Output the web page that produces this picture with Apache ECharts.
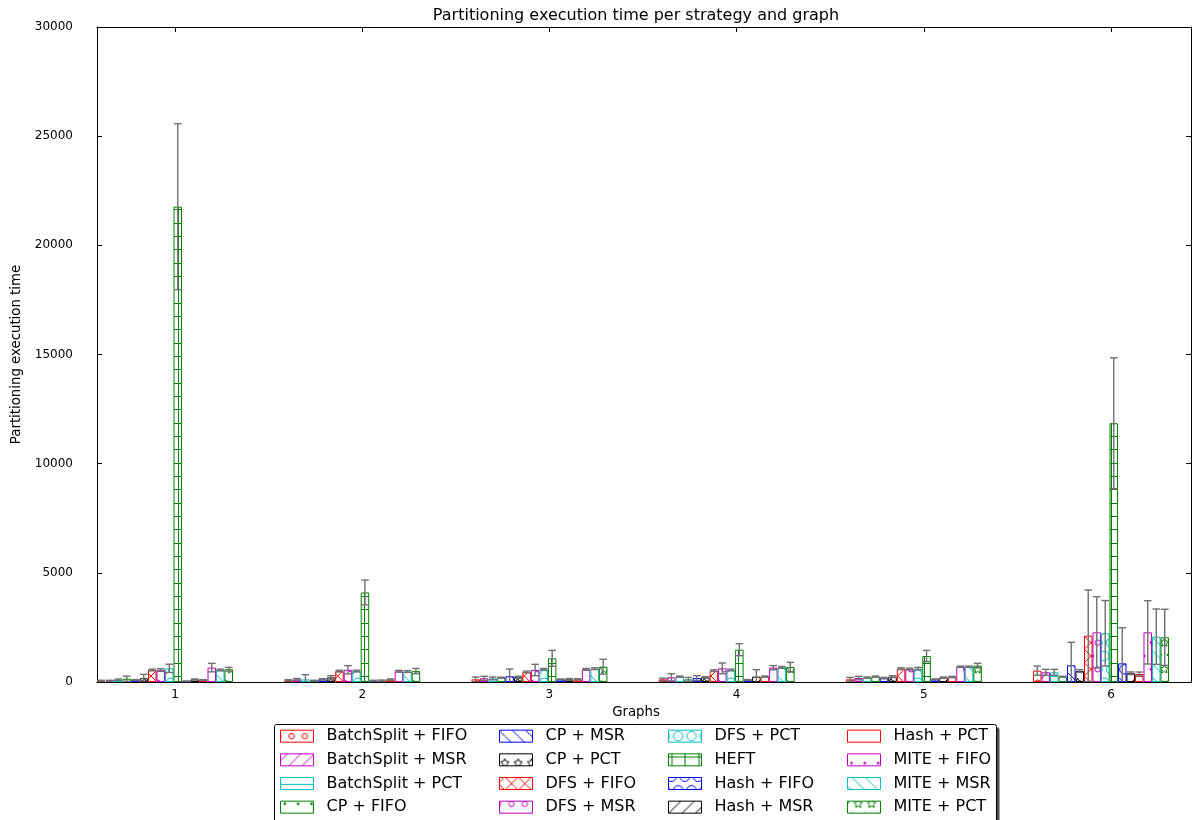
<!DOCTYPE html>
<html>
<head>
<meta charset="utf-8">
<script src="https://cdn.jsdelivr.net/npm/echarts@6/dist/echarts.min.js"></script>
<style>html,body{margin:0;padding:0;background:#fff}#chart{width:1192px;height:820px}</style>
</head>
<body>
<div id="chart"></div>
<script>
// ---------- data ----------
const graphs = [1, 2, 3, 4, 5, 6];
const strategies = [
  'BatchSplit + FIFO', 'BatchSplit + MSR', 'BatchSplit + PCT', 'CP + FIFO',
  'CP + MSR', 'CP + PCT', 'DFS + FIFO', 'DFS + MSR',
  'DFS + PCT', 'HEFT', 'Hash + FIFO', 'Hash + MSR',
  'Hash + PCT', 'MITE + FIFO', 'MITE + MSR', 'MITE + PCT'
];
const yTicks = [0, 5000, 10000, 15000, 20000, 25000, 30000];

// mean partitioning time per graph
const batchSplitFifo = [60, 80, 120, 120, 120, 520];
const batchSplitMsr  = [60, 120, 170, 215, 180, 445];
const batchSplitPct  = [105, 120, 165, 245, 200, 445];
const cpFifo         = [150, 60, 200, 120, 245, 245];
const cpMsr          = [90, 120, 260, 180, 180, 765];
const cpPct          = [170, 210, 215, 215, 245, 505];
const dfsFifo        = [550, 500, 460, 520, 610, 2120];
const dfsMsr         = [550, 560, 550, 625, 595, 2275];
const dfsPct         = [625, 500, 580, 550, 610, 2230];
const heft           = [21770, 4100, 1085, 1480, 1190, 11850];
const hashFifo       = [30, 60, 120, 92, 120, 855];
const hashMsr        = [120, 60, 120, 245, 200, 400];
const hashPct        = [90, 110, 120, 245, 230, 366];
const miteFifo       = [660, 490, 580, 655, 700, 2275];
const miteMsr        = [550, 480, 610, 670, 700, 2075];
const mitePct        = [585, 500, 700, 685, 750, 2045];

// error (std) per graph
const errBatchSplitFifo = [20, 30, 110, 60, 90, 210];
const errBatchSplitMsr  = [20, 40, 90, 165, 80, 135];
const errBatchSplitPct  = [30, 215, 65, 25, 30, 135];
const errCpFifo         = [120, 20, 20, 90, 30, 20];
const errCpMsr          = [20, 30, 335, 110, 30, 1055];
const errCpPct          = [180, 80, 45, 30, 40, 60];
const errDfsFifo        = [40, 40, 40, 40, 40, 2095];
const errDfsMsr         = [60, 190, 260, 245, 40, 1630];
const errDfsPct         = [190, 40, 40, 40, 60, 1500];
const errHeft           = [3800, 570, 365, 275, 260, 3000];
const errHashFifo       = [20, 20, 20, 20, 20, 1630];
const errHashMsr        = [20, 30, 40, 320, 30, 60];
const errHashPct        = [20, 30, 30, 30, 30, 90];
const errMiteFifo       = [195, 40, 40, 95, 30, 1450];
const errMiteMsr        = [40, 40, 40, 40, 30, 1270];
const errMitePct        = [85, 120, 340, 215, 105, 1285];

const means = [batchSplitFifo, batchSplitMsr, batchSplitPct, cpFifo, cpMsr, cpPct,
  dfsFifo, dfsMsr, dfsPct, heft, hashFifo, hashMsr, hashPct, miteFifo, miteMsr, mitePct];
const errors = [errBatchSplitFifo, errBatchSplitMsr, errBatchSplitPct, errCpFifo, errCpMsr, errCpPct,
  errDfsFifo, errDfsMsr, errDfsPct, errHeft, errHashFifo, errHashMsr, errHashPct, errMiteFifo, errMiteMsr, errMitePct];

// ---------- styles ----------
const colors = ['#ff0000', '#bf00bf', '#00bfbf', '#008000', '#0000ff', '#000000'];
const hatches = ['o', '/', '-', '.', '\\', '*', 'x', 'o', 'O', '+', 'O', '/', '-', '.', '\\', '*'];
const FONT = 'DejaVu Sans';
const BAR_W = 8.5;
const GROUP_SHIFT = -0.0534;
const X_MIN = 0.5833, X_MAX = 6.4274;
const ERR_COLOR = '#707070';
const HATCH_PHASE_X = 11, HATCH_PHASE_Y = 16;   // global anchoring of hatch grid
const LEG_COLS = [280, 499, 668, 847];
const LEG_TOP = 730, LEG_ROW = 23.33;

function hatchCanvas(kind, color) {
  const C = 80, n = 6, off = C / n;
  const cv = document.createElement('canvas');
  cv.width = C; cv.height = C;
  const ctx = cv.getContext('2d');
  ctx.fillStyle = '#ffffff';
  ctx.fillRect(0, 0, C, C);
  ctx.strokeStyle = color; ctx.fillStyle = color; ctx.lineWidth = 1;
  const line = (a, b, c, d) => { ctx.beginPath(); ctx.moveTo(a, b); ctx.lineTo(c, d); ctx.stroke(); };
  if (kind === '-' || kind === '+') {
    for (let k = 0; k < n; k++) { const y = Math.round((k + 0.5) * off) + 0.5; line(0, y, C, y); }
  }
  if (kind === '+') {
    for (let k = 0; k < n; k++) { const x = Math.round((k + 0.5) * off) + 0.5; line(x, 0, x, C); }
  }
  if (kind === '/' || kind === 'x') {
    for (let k = -n; k <= n; k++) { const x0 = k * off; line(x0, C, x0 + C, 0); }
  }
  if (kind === '\\' || kind === 'x') {
    for (let k = -n; k <= n; k++) { const x0 = k * off; line(x0, 0, x0 + C, C); }
  }
  if (kind === 'o' || kind === 'O' || kind === '.' || kind === '*') {
    for (let i = 0; i <= n; i++) {
      const y = i * off;
      const cols = [];
      if (i % 2 === 0) { for (let j = 0; j <= n; j++) cols.push(j * off); }
      else { for (let j = 0; j < n; j++) cols.push(off / 2 + j * off); }
      cols.forEach(x => {
        ctx.beginPath();
        if (kind === 'o') { ctx.arc(x, y, off * 0.2, 0, Math.PI * 2); ctx.stroke(); }
        else if (kind === 'O') { ctx.arc(x, y, off * 0.35, 0, Math.PI * 2); ctx.stroke(); }
        else if (kind === '.') { ctx.arc(x, y, off * 0.1, 0, Math.PI * 2); ctx.fill(); }
        else {
          const R = off / 3, r = R * 0.5;
          for (let p = 0; p < 10; p++) {
            const ang = -Math.PI / 2 + p * Math.PI / 5;
            const rr = p % 2 === 0 ? R : r;
            const px = x + rr * Math.cos(ang), py = y + rr * Math.sin(ang);
            if (p === 0) ctx.moveTo(px, py); else ctx.lineTo(px, py);
          }
          ctx.closePath(); ctx.stroke();
        }
      });
    }
  }
  return cv;
}

const N = strategies.length;
const hatchImages = strategies.map((name, s) => hatchCanvas(hatches[s], colors[s % colors.length]));

const barSeries = strategies.map((name, s) => {
  const col = colors[s % colors.length];
  return {
    name: name,
    type: 'bar',
    xAxisIndex: 0, yAxisIndex: 0,
    barWidth: BAR_W,
    barGap: '0%',
    data: graphs.map((g, k) => [g + GROUP_SHIFT, means[s][k]]),
    itemStyle: {
      color: { image: hatchImages[s], repeat: 'repeat', x: HATCH_PHASE_X, y: HATCH_PHASE_Y },
      borderColor: col,
      borderWidth: 1
    },
    emphasis: { disabled: true },
    z: 2
  };
});

const errData = [];
strategies.forEach((name, s) => {
  graphs.forEach((g, k) => errData.push([s, g, means[s][k], errors[s][k]]));
});

const errSeries = {
  type: 'custom',
  name: 'errors',
  xAxisIndex: 0, yAxisIndex: 0,
  data: errData,
  encode: { x: 1, y: 2 },
  clip: true,
  z: 5,
  silent: true,
  renderItem: function (params, api) {
    const s = api.value(0), g = api.value(1), m = api.value(2), e = api.value(3);
    const gx = g + GROUP_SHIFT;
    const x = api.coord([gx, m])[0] + (s - (N - 1) / 2) * BAR_W;
    const yTop = api.coord([gx, m + e])[1];
    const yBot = api.coord([gx, m - e])[1];
    const cap = 3.8;
    const st = { stroke: ERR_COLOR, lineWidth: 1.4 };
    return {
      type: 'group',
      children: [
        { type: 'line', shape: { x1: x, y1: yTop, x2: x, y2: yBot }, style: st },
        { type: 'line', shape: { x1: x - cap, y1: yTop, x2: x + cap, y2: yTop }, style: st },
        { type: 'line', shape: { x1: x - cap, y1: yBot, x2: x + cap, y2: yBot }, style: st }
      ]
    };
  }
};

const legends = LEG_COLS.map((lx, c) => ({
  orient: 'vertical',
  left: lx,
  top: LEG_TOP - 1.83,
  height: 120,
  padding: 0,
  itemGap: 7.66,
  itemWidth: 33,
  itemHeight: 12,
  icon: 'rect',
  selectedMode: false,
  z: 10,
  data: strategies.slice(c * 4, c * 4 + 4).map((name, r) => {
    const s = c * 4 + r;
    return {
      name: name,
      itemStyle: {
        color: { image: hatchImages[s], repeat: 'repeat',
          x: HATCH_PHASE_X - lx, y: HATCH_PHASE_Y - (LEG_TOP + r * LEG_ROW) }
      }
    };
  }),
  itemStyle: { borderWidth: 1 },
  textStyle: { fontFamily: FONT, fontSize: 16, color: '#000', lineHeight: 12, padding: [0, 0, 0, 8] }
}));

const axisLineStyle = { color: '#000', width: 1 };

const option = {
  animation: false,
  backgroundColor: '#fff',
  textStyle: { fontFamily: FONT },
  title: {
    text: 'Partitioning execution time per strategy and graph',
    left: 636, top: 8, padding: 0, textAlign: 'center',
    textStyle: { fontFamily: FONT, fontSize: 16, fontWeight: 'normal', color: '#000' }
  },
  grid: { left: 97, right: 1, top: 27, bottom: 138, containLabel: false, outerBoundsMode: 'none' },
  xAxis: [
    {
      type: 'value', min: X_MIN, max: X_MAX, position: 'bottom',
      name: 'Graphs', nameLocation: 'middle', nameGap: 22,
      nameTextStyle: { fontFamily: FONT, fontSize: 13.3, color: '#000', padding: [0, 16, 0, 0] },
      axisLine: { show: true, onZero: false, lineStyle: axisLineStyle },
      axisTick: { show: true, inside: true, length: 5, customValues: graphs, lineStyle: axisLineStyle },
      axisLabel: { show: true, customValues: graphs, margin: 7, fontSize: 12, color: '#000', fontFamily: FONT },
      splitLine: { show: false }
    },
    {
      type: 'value', min: X_MIN, max: X_MAX, position: 'top',
      axisLine: { show: true, onZero: false, lineStyle: axisLineStyle },
      axisTick: { show: true, inside: true, length: 5, customValues: graphs, lineStyle: axisLineStyle },
      axisLabel: { show: false },
      splitLine: { show: false }
    }
  ],
  yAxis: [
    {
      type: 'value', min: 0, max: 30000, interval: 5000, position: 'left',
      name: 'Partitioning execution time', nameLocation: 'middle', nameGap: 74,
      nameTextStyle: { fontFamily: FONT, fontSize: 13.3, color: '#000' },
      axisLine: { show: true, onZero: false, lineStyle: axisLineStyle },
      axisTick: { show: true, inside: true, length: 5, lineStyle: axisLineStyle },
      axisLabel: { show: true, margin: 24, fontSize: 12, color: '#000', fontFamily: FONT,
        customValues: yTicks, formatter: v => String(v) },
      splitLine: { show: false }
    },
    {
      type: 'value', min: 0, max: 30000, interval: 5000, position: 'right',
      axisLine: { show: true, onZero: false, lineStyle: axisLineStyle },
      axisTick: { show: true, inside: true, length: 5, lineStyle: axisLineStyle },
      axisLabel: { show: false },
      splitLine: { show: false }
    }
  ],
  legend: legends,
  graphic: [
    { type: 'rect', z: 1, silent: true, shape: { x: 277.5, y: 727.5, width: 722, height: 130, r: 2 },
      style: { fill: '#4d4d4d', stroke: null } },
    { type: 'rect', z: 2, silent: true, shape: { x: 274.5, y: 724.5, width: 722, height: 130, r: 2 },
      style: { fill: '#ffffff', stroke: '#000000', lineWidth: 1 } }
  ],
  series: barSeries.concat([errSeries])
};

const chart = echarts.init(document.getElementById('chart'), null, { renderer: 'canvas' });
chart.setOption(option);
</script>
</body>
</html>
